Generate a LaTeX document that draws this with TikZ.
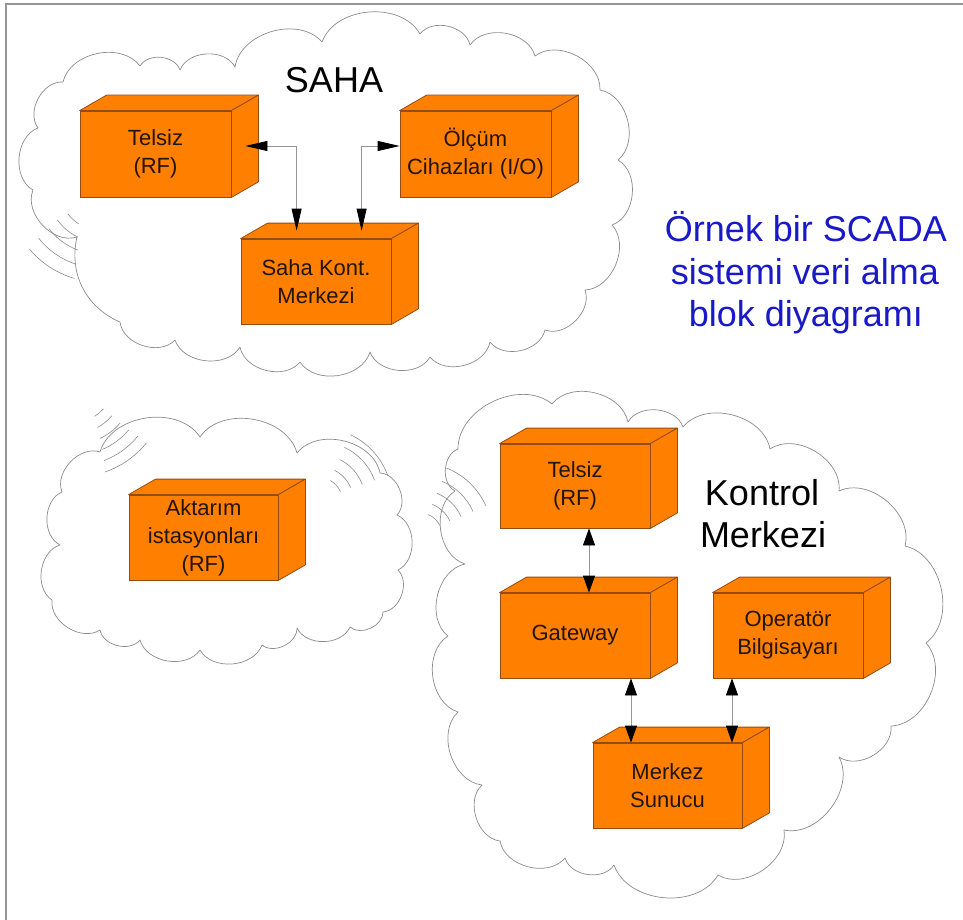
\documentclass[tikz,border=0pt]{standalone}
\usepackage{fontspec}
\setmainfont{Liberation Sans}
\usetikzlibrary{arrows.meta,calc}

\definecolor{boxfill}{RGB}{255,128,0}
\definecolor{boxedge}{RGB}{150,75,20}
\definecolor{boxtext}{RGB}{35,20,10}
\definecolor{cloudline}{RGB}{140,140,140}
\definecolor{titleblue}{RGB}{25,25,200}
\definecolor{framegray}{RGB}{150,150,150}
\definecolor{linkgray}{RGB}{150,150,150}

\tikzset{
  unit/.style={draw=boxedge, fill=boxfill, line width=0.8pt, text=boxtext,
    align=center, font=\fontsize{22}{28}\selectfont, inner sep=0pt,
    minimum width=150pt, minimum height=85pt},
  face/.style={draw=boxedge, fill=boxfill, line width=0.8pt, line join=round},
  cloudedge/.style={draw=cloudline, line width=0.7pt, line join=round,
    every to/.style={bend left=65}},
  wave/.style={draw=cloudline, line width=0.6pt},
  linkS/.style={draw=linkgray, line width=0.8pt,
    {Triangle[length=22pt,width=10pt,color=black]}-{Triangle[length=22pt,width=10pt,color=black]}},
  linkK/.style={draw=linkgray, line width=0.8pt,
    {Triangle[length=17pt,width=12pt,color=black]}-{Triangle[length=17pt,width=12pt,color=black]}},
  bigtitle/.style={font=\fontsize{36}{42}\selectfont, anchor=base, inner sep=0pt},
  bluetitle/.style={font=\fontsize{36}{42}\selectfont, anchor=base, inner sep=0pt, text=titleblue}
}

% top and side faces of a cuboid whose front face is node #1
\newcommand\cuboidfaces[1]{%
  \draw[face] (#1.north west) -- ++(27,-15.5) -- ($(#1.north east)+(27,-15.5)$) -- (#1.north east) -- cycle;
  \draw[face] (#1.north east) -- ++(27,-15.5) -- ($(#1.south east)+(27,-15.5)$) -- (#1.south east) -- cycle;
}

\begin{document}
\begin{tikzpicture}[x=1pt, y=-1pt]
\useasboundingbox (0,0) rectangle (963,920);
\fill[white] (0,0) rectangle (963,920);

% page frame (top and left edges)
\draw[framegray, line width=1.2pt] (6,920) -- (6,4) -- (963,4);

% ---------- clouds ----------
\draw[cloudedge] (77,237) to (33,190) to (38,128) to (63,82) to (140,66) to (180,70)
  to (235,67) to (322,42) to (420,34) to (470,45) to (535,56) to (600,90) to (618,160)
  to (612,225) to (585,290) to (545,330) to (490,342) to (430,357) to (370,352)
  to (300,362) to (240,347) to (175,340) to (120,322) to[bend left=40] (77,237);

\draw[cloudedge] (62,492) to (100,452) to (200,437) to (297,453) to (380,473)
  to (397,515) to (398,570) to (383,612) to (350,627) to (297,628) to (262,645)
  to (200,650) to (140,640) to (100,630) to (52,600) to (60,545) to (62,492);

\draw[cloudedge] (458,449) to (552,404) to (628,422) to (683,427) to (770,449)
  to (839,491) to (905,546) to (926,643) to (891,726) to (839,757) to (784,830)
  to (718,875) to (614,865) to (565,858) to (500,841) to (482,785) to (458,712)
  to (448,636) to (465,564) to (455,491) to (458,449);

% ---------- radio waves ----------
\foreach \r/\a/\b in {40/122/143, 52/115/145, 64/110/143, 78/108/142, 92/106/140}
  \draw[wave] (100,190) ++(\a:\r) arc[start angle=\a, end angle=\b, radius=\r];
\foreach \r/\a/\b in {22/-62/-22, 33/-64/-22, 45/-64/-20, 58/-65/-20, 72/-65/-20}
  \draw[wave] (320,500) ++(\a:\r) arc[start angle=\a, end angle=\b, radius=\r];
\foreach \r/\a/\b in {22/-68/-26, 33/-68/-25, 45/-68/-24, 58/-68/-24, 72/-68/-24}
  \draw[wave] (420,535) ++(\a:\r) arc[start angle=\a, end angle=\b, radius=\r];
\foreach \r/\a/\b in {37/40/58, 48/40/62, 59/40/65, 70/40/67, 81/39/69, 92/39/71}
  \draw[wave] (75,385) ++(\a:\r) arc[start angle=\a, end angle=\b, radius=\r];

% ---------- units ----------
\node[unit, minimum width=151pt, minimum height=86pt] (sT) at (155.5,154) {Telsiz\\(RF)};
\node[unit, minimum width=151pt, minimum height=86pt] (sO) at (475.5,154) {Ölçüm\\Cihazları (I/O)};
\node[unit] (sK) at (316,281.5) {Saha Kont.\\Merkezi};
\node[unit, minimum width=149pt] (aA) at (203.5,537.5) {Aktarım\\istasyonları\\(RF)};
\node[unit, minimum height=84pt] (kT) at (575,486) {Telsiz\\(RF)};
\node[unit] (kG) at (575,635.5) {Gateway};
\node[unit] (kO) at (788,635.5) {Operatör\\Bilgisayarı};
\node[unit, minimum width=149pt] (kM) at (667.5,785.5) {Merkez\\Sunucu};
\foreach \n in {sT,sO,sK,aA,kT,kG,kO,kM} {\cuboidfaces{\n}}

% ---------- links ----------
\draw[linkS] ($(sT.east)+(14,-8)$) -| ($(sK.north west)+(56,-8)$);
\draw[linkS] ($(sO.west)+(0,-8)$) -| ($(sK.north west)+(121,-8)$);
\draw[linkK] ($(kT.south)+(14,0)$) -- ($(kG.north)+(14,0)$);
\draw[linkK] ($(kG.south)+(56,0)$) -- ($(kM.north)+(-36.5,0)$);
\draw[linkK] ($(kO.south)+(-56,0)$) -- ($(kM.north)+(64.5,0)$);

% ---------- titles ----------
\node[bigtitle] (saha) at (334,93) {SAHA};
\node[bigtitle] (kon1) at (762,505) {Kontrol};
\node[bigtitle] (kon2) at (763,547) {Merkezi};
\node[bluetitle] (t1) at (806,241) {Örnek bir SCADA};
\node[bluetitle] (t2) at (805,284) {sistemi veri alma};
\node[bluetitle] (t3) at (806,326) {blok diyagramı};
\end{tikzpicture}
\end{document}
